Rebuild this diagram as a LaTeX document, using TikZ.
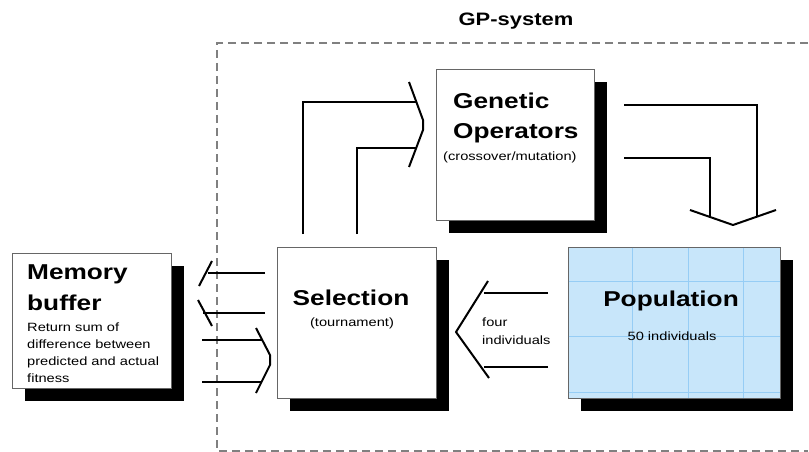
\documentclass[tikz,border=0pt]{standalone}
\usepackage{fontspec}
\setmainfont{Liberation Sans}[FakeStretch=1.22]
\usetikzlibrary{shadows}
\definecolor{popblue}{RGB}{200,230,250}
\definecolor{gridblue}{RGB}{150,205,245}
\definecolor{framegray}{RGB}{128,128,128}
\tikzstyle{block}=[draw=black!60, line width=0.8pt, fill=white, inner sep=0pt,
  drop shadow={shadow xshift=13pt, shadow yshift=-13pt, opacity=1, fill=black}]
\tikzstyle{head}=[font=\fontsize{21.5}{24}\selectfont\bfseries, inner sep=0pt]
\tikzstyle{note}=[font=\fontsize{12}{14}\selectfont, inner sep=0pt]
\tikzstyle{flow}=[line width=2.6pt, black, line join=miter]
\tikzstyle{tip}=[line width=2pt, black, line join=round]

\begin{document}
\begin{tikzpicture}[x=1pt, y=-1pt]
\useasboundingbox (0,0) rectangle (809,452);
% Frame
    \draw[framegray, line width=1.3pt, dash pattern=on 8pt off 5pt] (808,43) -- (217,43) -- (217,451) -- (808,451);
    \node[head, font=\fontsize{18}{20}\selectfont\bfseries] (gp) at (516,21) {GP-system};
% Boxes
    \node[block, minimum width=158pt, minimum height=151pt] (gen) at (515,144.5) {};
    \node[block, minimum width=159pt, minimum height=151pt] (sel) at (356.5,322.5) {};
    \node[block, fill=popblue, minimum width=212pt, minimum height=151pt] (pop) at (674,322.5) {};
    \node[block, minimum width=159pt, minimum height=135pt] (mem) at (91.5,320.5) {};
% Grid on population
    \draw[gridblue, line width=0.6pt] (632,247.5) -- (632,397.5);
    \draw[gridblue, line width=0.6pt] (688,247.5) -- (688,397.5);
    \draw[gridblue, line width=0.6pt] (743,247.5) -- (743,397.5);
    \draw[gridblue, line width=0.6pt] (568.5,281) -- (779.5,281);
    \draw[gridblue, line width=0.6pt] (568.5,336) -- (779.5,336);
    \draw[gridblue, line width=0.6pt] (568.5,392) -- (779.5,392);
% Texts
    \node[head, anchor=base west] (genA) at (453,108) {Genetic};
    \node[head, anchor=base west] (genB) at (453,138) {Operators};
    \node[note, anchor=base west] (genC) at (443,160) {(crossover/mutation)};
    \node[head, anchor=base] (selA) at (351,305) {Selection};
    \node[note, anchor=base] (selB) at (352,326) {(tournament)};
    \node[head, anchor=base] (popA) at (671,306) {Population};
    \node[note, anchor=base] (popB) at (672,340) {50 individuals};
    \node[head, anchor=base west] (memA) at (27,279) {Memory};
    \node[head, anchor=base west] (memB) at (27,310) {buffer};
    \node[note, anchor=base west] (memC) at (27,331) {Return sum of};
    \node[note, anchor=base west] (memD) at (27,348) {difference between};
    \node[note, anchor=base west] (memE) at (27,365) {predicted and actual};
    \node[note, anchor=base west] (memF) at (27,382) {fitness};
    \node[note, anchor=base west] (fourA) at (482,326) {four};
    \node[note, anchor=base west] (fourB) at (482,344) {individuals};
% Selection to memory
    \draw[flow] (265,273) -- (208,273);
    \draw[tip] (212,261) -- (199,286);
    \draw[flow] (265,313) -- (203,313);
    \draw[tip] (198,300) -- (212,326);
% Memory to selection
    \draw[flow] (202,340) -- (262,340);
    \draw[flow] (202,382) -- (262,382);
    \draw[tip] (256,328) -- (270,355) -- (270,365) -- (256,393);
% Selection to operators
    \draw[flow] (303,234) -- (303,102) -- (416,102);
    \draw[flow] (357,234) -- (357,148) -- (416,148);
    \draw[tip] (409,82) -- (423,120) -- (423,130) -- (409,167);
% Operators to population
    \draw[flow] (624,105) -- (757,105) -- (757,217);
    \draw[flow] (624,158) -- (710,158) -- (710,217);
    \draw[tip] (690,210) -- (733,225) -- (776,210);
% Population to selection
    \draw[flow] (548,293) -- (484,293);
    \draw[flow] (548,367) -- (484,367);
    \draw[tip] (488,281) -- (456,332) -- (489,378);
\end{tikzpicture}
\end{document}
